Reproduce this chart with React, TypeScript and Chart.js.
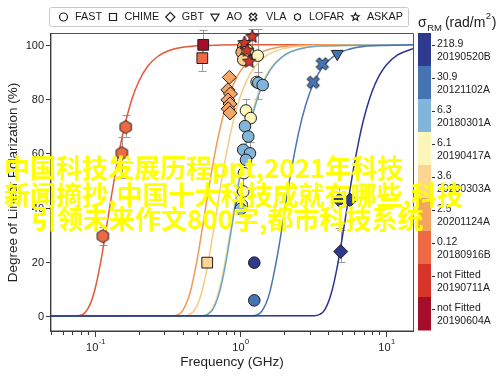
import React, { useEffect, useRef } from 'react';
import { Chart, registerables } from 'chart.js';

Chart.register(...registerables);

// ---------- FRB classes (colour bar, top to bottom) ----------
const frbNames = ['20190520B', '20121102A', '20180301A', '20190417A', '20200303A', '20201124A', '20180916B', '20190711A', '20190604A'];
const frbSigma = ['218.9', '30.9', '6.3', '6.1', '3.6', '2.5', '0.12', 'not Fitted', 'not Fitted'];
const frbColors = ['#2f3a8f', '#4674b2', '#83b4d9', '#fdf6bb', '#fbd591', '#f5a562', '#ee6a45', '#d6362a', '#a40e2b'];
const curveColors = ['#2c3590', '#4a76b0', '#6fa2cb', '#f1e196', '#f6c984', '#f09a55', '#e4583a'];

// ---------- fitted depolarisation curves (GHz, %) ----------
const fit20190520B_freq = [0.05, 3.2, 3.5, 3.8, 4.2, 4.6, 5.0, 5.5, 6.0, 6.5, 7.0, 8.0, 9.0, 10, 12, 15.3];
const fit20190520B_pol = [0, 0.1, 0.6, 2.4, 8.3, 17.7, 28.9, 42.8, 54.9, 64.7, 72.4, 82.7, 88.8, 92.5, 96.3, 98.6];
const fit20121102A_freq = [0.05, 1.2, 1.3, 1.4, 1.5, 1.6, 1.8, 2.0, 2.2, 2.5, 2.8, 3.2, 3.7, 4.5, 5.5, 7, 10, 15.3];
const fit20121102A_pol = [0, 0.1, 0.4, 1.8, 4.7, 9.4, 22.9, 38.0, 51.7, 67.3, 77.7, 86.3, 92.1, 96.3, 98.3, 99.4, 99.8, 100];
const fit20180301A_freq = [0.05, 0.55, 0.6, 0.65, 0.7, 0.75, 0.8, 0.9, 1.0, 1.1, 1.25, 1.4, 1.6, 2.0, 2.5, 3.5, 15.3];
const fit20180301A_pol = [0, 0.1, 0.7, 2.7, 6.9, 13.1, 20.8, 37.5, 52.6, 64.5, 76.8, 84.6, 90.7, 96.1, 98.4, 99.6, 100];
const fit20190417A_freq = [0.05, 0.55, 0.6, 0.65, 0.7, 0.75, 0.8, 0.9, 1.0, 1.1, 1.25, 1.4, 1.6, 2.0, 2.5, 3.5, 15.3];
const fit20190417A_pol = [0, 0.1, 1.0, 3.4, 8.1, 14.9, 23.0, 39.9, 54.7, 66.3, 78.1, 85.5, 91.2, 96.3, 98.5, 99.6, 100];
const fit20200303A_freq = [0.05, 0.4, 0.45, 0.5, 0.55, 0.6, 0.65, 0.7, 0.75, 0.8, 0.9, 1.0, 1.1, 1.25, 1.5, 2.0, 3.0, 15.3];
const fit20200303A_pol = [0, 0, 0.6, 3.5, 10.1, 19.8, 30.8, 41.7, 51.5, 59.9, 72.6, 81.1, 86.6, 91.8, 95.9, 98.7, 99.7, 100];
const fit20201124A_freq = [0.05, 0.3, 0.35, 0.38, 0.4, 0.45, 0.5, 0.55, 0.6, 0.65, 0.7, 0.8, 0.9, 1.0, 1.2, 1.5, 2.0, 3.0, 15.3];
const fit20201124A_pol = [0, 0, 0.1, 0.8, 1.9, 8.5, 19.8, 33.1, 45.8, 56.7, 65.6, 78.1, 85.7, 90.4, 95.2, 98.0, 99.4, 99.9, 100];
const fit20180916B_freq = [0.05, 0.07, 0.08, 0.085, 0.09, 0.095, 0.1, 0.11, 0.12, 0.13, 0.14, 0.15, 0.16, 0.18, 0.2, 0.23, 0.27, 0.32, 0.4, 0.6, 1.0, 15.3];
const fit20180916B_pol = [0, 0, 0.3, 1.1, 2.9, 5.7, 9.7, 20.3, 32.5, 44.2, 54.5, 63.1, 70.0, 80.1, 86.4, 92.0, 95.7, 97.8, 99.1, 99.8, 100, 100];

// ---------- measurements by telescope ----------
const fastFreq = [1.045, 1.019, 1.091, 1.045, 1.12, 1.313, 1.292, 1.325, 1.421, 1.091, 1.175, 1.074, 1.131, 1.045, 1.162, 1.091, 1.057, 1.045, 1.02, 1.003, 1.244, 1.244];
const fastPol = [99.4, 97.3, 95.8, 94.5, 98.0, 96.0, 86.3, 86.0, 85.2, 75.8, 73.0, 70.0, 66.2, 61.3, 60.0, 57.6, 52.7, 45.9, 41.0, 39.5, 19.7, 5.8];
const fastFrb = [5, 5, 5, 4, 3, 3, 3, 2, 2, 3, 3, 2, 2, 2, 2, 2, 3, 3, 3, 2, 0, 1];
const fastErrLo = [null, null, null, null, null, 90, null, 80, null, 72, null, null, null, null, 56, null, null, 42, null, null, null, null];
const fastErrHi = [null, null, null, null, null, 106, null, 90, null, 80, null, null, null, null, 64, null, null, 52, null, null, null, null];

const chimeFreq = [0.555, 0.547, 0.591];
const chimePol = [100, 95.1, 19.7];
const chimeFrb = [8, 6, 4];
const chimeErrLo = [96, 90.2, null];
const chimeErrHi = [105.5, 100, null];

const gbtFreq = [0.838, 0.82, 0.854, 0.82, 0.847, 0.824, 0.847, 4.77, 5.66, 4.88];
const gbtPol = [88.0, 83.4, 81.9, 79.7, 78.2, 76.4, 74.9, 42.8, 42.8, 23.8];
const gbtFrb = [5, 5, 5, 5, 5, 5, 5, 0, 0, 0];
const gbtErrLo = [null, null, null, null, null, null, null, 32.5, null, 19.9];
const gbtErrHi = [null, null, null, null, null, null, null, 47.6, null, 31.7];

const aoFreq = [4.62];
const aoPol = [96.7];
const aoFrb = [1];

const vlaFreq = [3.16, 3.65];
const vlaPol = [86.2, 93.0];
const vlaFrb = [1, 1];

const lofarFreq = [0.1135, 0.1533, 0.163];
const lofarPol = [29.5, 60.1, 69.7];
const lofarFrb = [6, 6, 6];
const lofarErrLo = [26.2, 51, 66];
const lofarErrHi = [32.8, 66, 74];

const askapFreq = [1.205, 1.065, 1.113, 1.149];
const askapPol = [103.0, 100.7, 97.9, 93.8];
const askapFrb = [7, 7, 7, 7];
const askapErrLo = [98, null, null, null];
const askapErrHi = [106, null, null, null];

// ---------- axes ----------
const xMin = 0.05;
const xMax = 15.3;
const yMin = -5.5;
const yMax = 104;
const yTickValues = [0, 20, 40, 60, 80, 100];
const xMajorTicks = [0.1, 1, 10];
const xMajorExp = ['-1', '0', '1'];
const xMinorTicks = [0.05, 0.06, 0.07, 0.08, 0.09, 0.2, 0.3, 0.4, 0.5, 0.6, 0.7, 0.8, 0.9, 2, 3, 4, 5, 6, 7, 8, 9];
const xTitle = 'Frequency (GHz)';
const yTitle = 'Degree of Linear Polarization (%)';

const legendLabels = ['FAST', 'CHIME', 'GBT', 'AO', 'VLA', 'LOFAR', 'ASKAP'];
const legendShapes = ['circle', 'square', 'diamond', 'triDown', 'xcross', 'hex', 'star'];

const watermarkLines = ['中国科技发展历程ppt,2021年科技', '新闻摘抄,中国十大科技成就有哪些,科技', '引领未来作文800字,都市科技系统'];

const FONT = "'Liberation Sans', Arial, Helvetica, sans-serif";
const INK = '#1e1e1e';

function tracePath(ctx: CanvasRenderingContext2D, kind: string, x: number, y: number, r: number) {
  ctx.beginPath();
  switch (kind) {
    case 'circle':
      ctx.arc(x, y, r, 0, Math.PI * 2);
      break;
    case 'square':
      ctx.rect(x - r, y - r, 2 * r, 2 * r);
      break;
    case 'diamond':
      ctx.moveTo(x, y - r);
      ctx.lineTo(x + r, y);
      ctx.lineTo(x, y + r);
      ctx.lineTo(x - r, y);
      ctx.closePath();
      break;
    case 'triDown':
      ctx.moveTo(x - r, y - r * 0.7);
      ctx.lineTo(x + r, y - r * 0.7);
      ctx.lineTo(x, y + r);
      ctx.closePath();
      break;
    case 'hex':
      for (let i = 0; i < 6; i++) {
        const a = -Math.PI / 2 + (i * Math.PI) / 3;
        const px = x + r * Math.cos(a);
        const py = y + r * Math.sin(a);
        if (i === 0) ctx.moveTo(px, py);
        else ctx.lineTo(px, py);
      }
      ctx.closePath();
      break;
    case 'star':
      for (let i = 0; i < 10; i++) {
        const a = -Math.PI / 2 + (i * Math.PI) / 5;
        const rr = i % 2 ? r * 0.45 : r;
        const px = x + rr * Math.cos(a);
        const py = y + rr * Math.sin(a);
        if (i === 0) ctx.moveTo(px, py);
        else ctx.lineTo(px, py);
      }
      ctx.closePath();
      break;
    case 'xcross': {
      const w = r * 0.34;
      const pts = [[-w, -r], [w, -r], [w, -w], [r, -w], [r, w], [w, w], [w, r], [-w, r], [-w, w], [-r, w], [-r, -w], [-w, -w]];
      const c = Math.SQRT1_2;
      pts.forEach(([px, py], i) => {
        const rx = (px - py) * c;
        const ry = (px + py) * c;
        if (i === 0) ctx.moveTo(x + rx, y + ry);
        else ctx.lineTo(x + rx, y + ry);
      });
      ctx.closePath();
      break;
    }
  }
}

function markerCanvas(kind: string, r: number, fill: string) {
  const s = Math.ceil(2 * r + 4);
  const c = document.createElement('canvas');
  c.width = s;
  c.height = s;
  const g = c.getContext('2d') as CanvasRenderingContext2D;
  tracePath(g, kind, s / 2, s / 2, r);
  g.fillStyle = fill;
  g.fill();
  g.lineWidth = 1;
  g.strokeStyle = INK;
  g.stroke();
  return c;
}

const errorBarPlugin = {
  id: 'errorBars',
  beforeDatasetsDraw(chart: any) {
    const { ctx } = chart;
    const xs = chart.scales.x;
    const ys = chart.scales.y;
    ctx.save();
    ctx.strokeStyle = '#9b9b9b';
    ctx.lineWidth = 1;
    chart.data.datasets.forEach((ds: any) => {
      if (!ds.errLo) return;
      ds.data.forEach((p: any, i: number) => {
        const lo = ds.errLo[i];
        const hi = ds.errHi[i];
        if (lo == null || hi == null) return;
        const px = Math.round(xs.getPixelForValue(p.x)) + 0.5;
        const y1 = Math.round(ys.getPixelForValue(lo)) + 0.5;
        const y2 = Math.round(ys.getPixelForValue(hi)) + 0.5;
        ctx.beginPath();
        ctx.moveTo(px, y1);
        ctx.lineTo(px, y2);
        ctx.moveTo(px - 4, y1);
        ctx.lineTo(px + 4, y1);
        ctx.moveTo(px - 4, y2);
        ctx.lineTo(px + 4, y2);
        ctx.stroke();
      });
    });
    ctx.restore();
  },
};

const decorPlugin = {
  id: 'decor',
  beforeDatasetsDraw(chart: any) {
    const { ctx, chartArea } = chart;
    const { left, right, top, bottom } = chartArea;
    ctx.save();
    ctx.strokeStyle = '#555';
    ctx.lineWidth = 1;
    ctx.beginPath();
    ctx.moveTo(left, top - 0.5);
    ctx.lineTo(right + 0.5, top - 0.5);
    ctx.lineTo(right + 0.5, bottom);
    ctx.stroke();
    ctx.strokeStyle = '#3c3c3c';
    ctx.lineWidth = 1.4;
    ctx.beginPath();
    ctx.moveTo(left - 0.3, top - 1);
    ctx.lineTo(left - 0.3, bottom + 0.3);
    ctx.lineTo(right + 1, bottom + 0.3);
    ctx.stroke();
    ctx.restore();
  },
  afterDraw(chart: any) {
    const { ctx, chartArea } = chart;
    const { left, right, top, bottom } = chartArea;
    const xs = chart.scales.x;
    const ys = chart.scales.y;
    ctx.save();
    ctx.fillStyle = '#222';
    ctx.strokeStyle = '#3c3c3c';
    ctx.lineWidth = 1;

    // y ticks and labels
    ctx.font = `11px ${FONT}`;
    ctx.textAlign = 'right';
    ctx.textBaseline = 'middle';
    yTickValues.forEach((v) => {
      const py = Math.round(ys.getPixelForValue(v)) + 0.5;
      ctx.beginPath();
      ctx.moveTo(left - 5, py);
      ctx.lineTo(left, py);
      ctx.stroke();
      ctx.fillText(String(v), left - 7, py);
    });

    // x ticks
    xMinorTicks.forEach((v) => {
      const px = Math.round(xs.getPixelForValue(v)) + 0.5;
      ctx.beginPath();
      ctx.moveTo(px, bottom + 1);
      ctx.lineTo(px, bottom + 4);
      ctx.stroke();
    });
    xMajorTicks.forEach((v, i) => {
      const px = Math.round(xs.getPixelForValue(v)) + 0.5;
      ctx.beginPath();
      ctx.moveTo(px, bottom + 1);
      ctx.lineTo(px, bottom + 6);
      ctx.stroke();
      ctx.textAlign = 'left';
      ctx.textBaseline = 'alphabetic';
      ctx.font = `11px ${FONT}`;
      const w10 = ctx.measureText('10').width;
      ctx.font = `7.5px ${FONT}`;
      const wExp = ctx.measureText(xMajorExp[i]).width;
      const sx = px - (w10 + wExp) / 2;
      ctx.font = `11px ${FONT}`;
      ctx.fillText('10', sx, bottom + 20);
      ctx.font = `7.5px ${FONT}`;
      ctx.fillText(xMajorExp[i], sx + w10 + 0.5, bottom + 13);
    });

    // axis titles
    ctx.font = `13.5px ${FONT}`;
    ctx.textAlign = 'center';
    ctx.textBaseline = 'alphabetic';
    ctx.fillText(xTitle, (left + right) / 2, bottom + 35);
    ctx.save();
    ctx.translate(13, (top + bottom) / 2);
    ctx.rotate(-Math.PI / 2);
    ctx.textBaseline = 'middle';
    ctx.fillText(yTitle, 0, 0);
    ctx.restore();

    // legend box
    const lbLeft = left - 1.5;
    const lbRight = right - 4.5;
    const lbTop = 7.5;
    const lbBottom = top - 7.5;
    ctx.strokeStyle = '#c9c9c9';
    ctx.beginPath();
    ctx.roundRect(lbLeft, lbTop, lbRight - lbLeft, lbBottom - lbTop, 2);
    ctx.stroke();
    const midY = (lbTop + lbBottom) / 2;
    ctx.font = `10.8px ${FONT}`;
    ctx.textAlign = 'left';
    ctx.textBaseline = 'middle';
    let mx = lbLeft + 14;
    legendLabels.forEach((lab, i) => {
      const shape = legendShapes[i];
      const r = shape === 'diamond' ? 4.6 : shape === 'square' ? 3.5 : shape === 'hex' ? 3.4 : 4;
      tracePath(ctx, shape, mx, midY, r);
      ctx.strokeStyle = INK;
      ctx.lineWidth = 1.2;
      ctx.stroke();
      const tx = mx + (shape === 'xcross' ? 13 : 11.5);
      ctx.fillStyle = '#1a1a1a';
      ctx.fillText(lab, tx, midY + 0.5);
      mx = tx + ctx.measureText(lab).width + 11;
    });

    // colour bar
    const cbLeft = right + 5;
    const cbWidth = 13;
    const cbTop = top - 1;
    const cbBottom = bottom - 1;
    const segH = (cbBottom - cbTop) / frbColors.length;
    frbColors.forEach((c, i) => {
      ctx.fillStyle = c;
      ctx.fillRect(cbLeft, cbTop + i * segH, cbWidth, segH + 0.5);
    });
    ctx.font = `10.5px ${FONT}`;
    ctx.textAlign = 'left';
    ctx.textBaseline = 'middle';
    ctx.strokeStyle = '#333';
    ctx.lineWidth = 1;
    frbNames.forEach((n, i) => {
      const sTop = cbTop + i * segH;
      const ty = Math.round(sTop + segH * 0.36) + 0.5;
      ctx.beginPath();
      ctx.moveTo(cbLeft + cbWidth + 1, ty);
      ctx.lineTo(cbLeft + cbWidth + 4, ty);
      ctx.stroke();
      ctx.fillStyle = '#222';
      ctx.fillText(frbSigma[i], cbLeft + 19, sTop + segH * 0.33);
      ctx.fillText(n, cbLeft + 19, sTop + segH * 0.72);
    });

    // colour bar title: sigma_RM (rad/m^2)
    ctx.textBaseline = 'alphabetic';
    ctx.fillStyle = '#222';
    let tx = cbLeft;
    ctx.font = `14px ${FONT}`;
    ctx.fillText('σ', tx, 27);
    tx += ctx.measureText('σ').width + 0.5;
    ctx.font = `9.5px ${FONT}`;
    ctx.fillText('RM', tx, 31);
    tx += ctx.measureText('RM').width + 3;
    ctx.font = `14px ${FONT}`;
    ctx.fillText('(rad/m', tx, 27);
    tx += ctx.measureText('(rad/m').width + 0.5;
    ctx.font = `9.5px ${FONT}`;
    ctx.fillText('2', tx, 19);
    tx += ctx.measureText('2').width + 0.5;
    ctx.font = `14px ${FONT}`;
    ctx.fillText(')', tx, 27);

    ctx.restore();
  },
};

function buildConfig(): any {
  const curves = [
    [fit20190520B_freq, fit20190520B_pol],
    [fit20121102A_freq, fit20121102A_pol],
    [fit20180301A_freq, fit20180301A_pol],
    [fit20190417A_freq, fit20190417A_pol],
    [fit20200303A_freq, fit20200303A_pol],
    [fit20201124A_freq, fit20201124A_pol],
    [fit20180916B_freq, fit20180916B_pol],
  ];
  const curveSets = curves.map(([f, p], k) => ({
    type: 'line',
    label: 'fit ' + frbNames[k],
    data: f.map((v, i) => ({ x: v, y: p[i] })),
    borderColor: curveColors[k],
    borderWidth: 1.5,
    pointRadius: 0,
    fill: false,
    showLine: true,
    cubicInterpolationMode: 'monotone',
    order: 10 + k,
  }));

  const pts = (f: number[], p: number[]) => f.map((v, i) => ({ x: v, y: p[i] }));

  const scatterSets = [
    {
      label: 'ASKAP',
      data: pts(askapFreq, askapPol),
      pointStyle: askapFrb.map((c) => markerCanvas('star', 7, frbColors[c])),
      pointRadius: 6,
      errLo: askapErrLo,
      errHi: askapErrHi,
      order: 0,
    },
    {
      label: 'FAST',
      data: pts(fastFreq, fastPol),
      pointStyle: 'circle',
      pointRadius: 5.8,
      backgroundColor: fastFrb.map((c) => frbColors[c]),
      borderColor: INK,
      borderWidth: 1,
      errLo: fastErrLo,
      errHi: fastErrHi,
      order: 1,
    },
    {
      label: 'CHIME',
      data: pts(chimeFreq, chimePol),
      pointStyle: 'rect',
      pointRadius: 7.6,
      backgroundColor: chimeFrb.map((c) => frbColors[c]),
      borderColor: INK,
      borderWidth: 1,
      errLo: chimeErrLo,
      errHi: chimeErrHi,
      order: 2,
    },
    {
      label: 'GBT',
      data: pts(gbtFreq, gbtPol),
      pointStyle: 'rectRot',
      pointRadius: 7,
      backgroundColor: gbtFrb.map((c) => frbColors[c]),
      borderColor: INK,
      borderWidth: 1,
      errLo: gbtErrLo,
      errHi: gbtErrHi,
      order: 3,
    },
    {
      label: 'AO',
      data: pts(aoFreq, aoPol),
      pointStyle: 'triangle',
      rotation: 180,
      pointRadius: 6.8,
      backgroundColor: aoFrb.map((c) => frbColors[c]),
      borderColor: INK,
      borderWidth: 1,
      order: 4,
    },
    {
      label: 'VLA',
      data: pts(vlaFreq, vlaPol),
      pointStyle: vlaFrb.map((c) => markerCanvas('xcross', 6.6, frbColors[c])),
      pointRadius: 6,
      order: 5,
    },
    {
      label: 'LOFAR',
      data: pts(lofarFreq, lofarPol),
      pointStyle: lofarFrb.map((c) => markerCanvas('hex', 6.5, frbColors[c])),
      pointRadius: 6,
      errLo: lofarErrLo,
      errHi: lofarErrHi,
      order: 6,
    },
  ].map((d) => ({ type: 'scatter', clip: false, ...d }));

  return {
    type: 'scatter',
    data: { datasets: [...scatterSets, ...curveSets] },
    options: {
      responsive: false,
      animation: false,
      events: [],
      layout: { padding: { left: 51, right: 87, top: 34, bottom: 47 } },
      plugins: {
        legend: { display: false },
        tooltip: { enabled: false },
        title: { display: false },
      },
      scales: {
        x: { type: 'logarithmic', min: xMin, max: xMax, display: false },
        y: { type: 'linear', min: yMin, max: yMax, display: false },
      },
    },
    plugins: [errorBarPlugin, decorPlugin],
  };
}

const wmStyle: React.CSSProperties = {
  position: 'absolute',
  whiteSpace: 'nowrap',
  fontFamily: "'Noto Sans CJK SC', sans-serif",
  fontWeight: 700,
  fontSize: 26,
  lineHeight: '26px',
  color: '#ffff00',
  pointerEvents: 'none',
};

export default function App() {
  const ref = useRef<HTMLCanvasElement>(null);
  useEffect(() => {
    const canvas = ref.current;
    if (!canvas) return;
    const chart = new Chart(canvas, buildConfig());
    return () => chart.destroy();
  }, []);
  return (
    <div style={{ position: 'fixed', left: 0, top: 0, width: 500, height: 378, background: '#fff', overflow: 'hidden' }}>
      <canvas ref={ref} width={500} height={378} style={{ display: 'block', width: 500, height: 378 }} />
      <div style={{ ...wmStyle, left: 4, top: 154 }}>{watermarkLines[0]}</div>
      <div style={{ ...wmStyle, left: 4, top: 181 }}>{watermarkLines[1]}</div>
      <div style={{ ...wmStyle, left: 31, top: 205 }}>{watermarkLines[2]}</div>
    </div>
  );
}
